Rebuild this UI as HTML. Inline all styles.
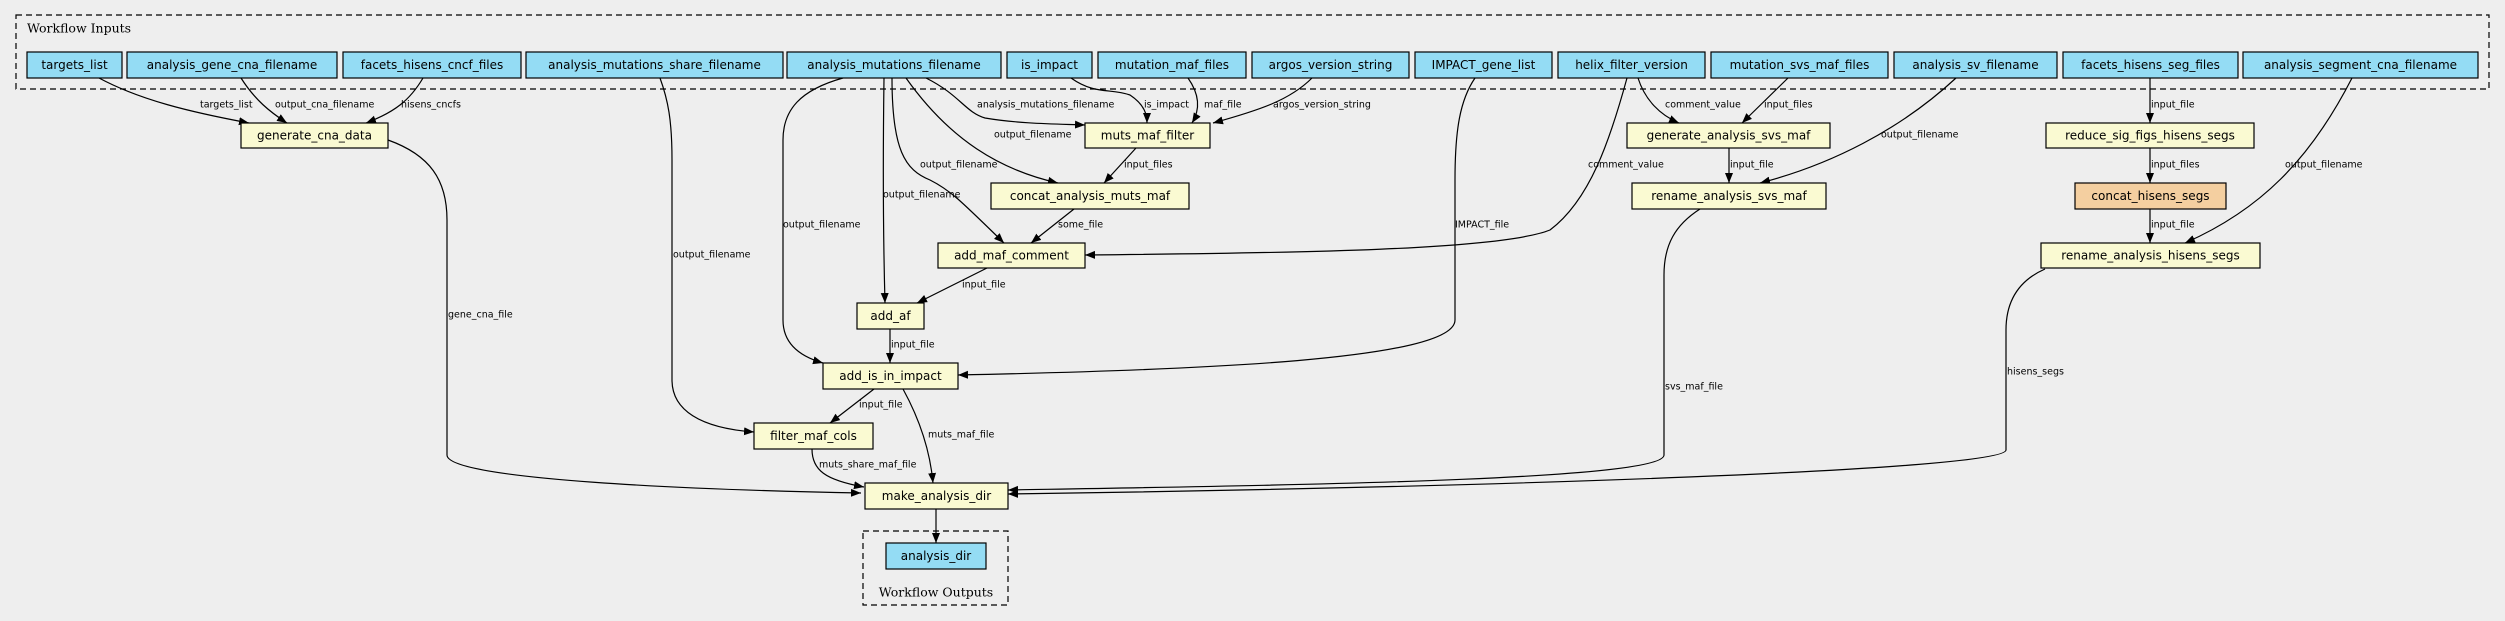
<!DOCTYPE html>
<html><head><meta charset="utf-8"><style>
body{margin:0;background:#eeeeee;}
svg{display:block}
.n{font-family:"DejaVu Sans","Liberation Sans",sans-serif;font-size:12px;fill:#000;text-anchor:middle;dominant-baseline:central}
.l{font-family:"DejaVu Sans","Liberation Sans",sans-serif;font-size:9.5px;fill:#000;dominant-baseline:central}
.e{fill:none;stroke:#000;stroke-width:1.2}
.i{fill:#94dcf4;stroke:#000;stroke-width:1.2}
.s{fill:#fafad2;stroke:#000;stroke-width:1.2}
</style></head><body>
<svg width="2505" height="621" xmlns="http://www.w3.org/2000/svg">
<defs><marker id="a" viewBox="0 0 10 10" refX="10" refY="5" markerWidth="10" markerHeight="10" markerUnits="userSpaceOnUse" orient="auto"><path d="M0,1 L10,5 L0,9 z" fill="#000"/></marker></defs>
<rect width="2505" height="621" fill="#eeeeee"/>
<rect x="16" y="15" width="2473" height="74" fill="none" stroke="#000" stroke-width="1.2" stroke-dasharray="6,4"/>
<text x="27" y="28" style="font-family:'DejaVu Serif','Liberation Serif',serif;font-size:12.5px" dominant-baseline="central">Workflow Inputs</text>
<rect x="863" y="531" width="145" height="74" fill="none" stroke="#000" stroke-width="1.2" stroke-dasharray="6,4"/>
<text x="936" y="592" style="font-family:'DejaVu Serif','Liberation Serif',serif;font-size:12.5px" text-anchor="middle" dominant-baseline="central">Workflow Outputs</text>

<!-- edges -->
<g class="e" marker-end="url(#a)">
<path d="M99,78 C140,100 190,112 249,123"/>
<path d="M241,78 C255,100 270,112 287,123"/>
<path d="M423,78 C410,100 395,112 366,123"/>
<path d="M388,140 C430,155 447,180 447,220 L447,455 C447,480 700,490 861,493"/>
<path d="M660,78 C668,100 672,120 672,160 L672,380 C672,410 700,428 754,432"/>
<path d="M843,78 C800,90 783,110 783,140 L783,320 C783,340 795,355 823,363"/>
<path d="M884,78 C883,150 883,230 885,303"/>
<path d="M892,78 C892,150 905,170 930,180 C950,190 960,200 1004,243"/>
<path d="M906,78 C950,140 1000,170 1058,183"/>
<path d="M926,78 C960,95 965,112 985,118 C1020,124 1060,124 1085,125"/>
<path d="M1071,78 C1095,95 1110,88 1130,95 C1145,105 1147,115 1147,123"/>
<path d="M1188,78 C1200,95 1200,110 1192,123"/>
<path d="M1312,78 C1290,100 1260,110 1213,123"/>
<path d="M1136,148 L1104,183"/>
<path d="M1074,209 L1031,243"/>
<path d="M987,268 L917,303"/>
<path d="M890,329 L890,363"/>
<path d="M1475,78 C1460,100 1455,130 1455,180 L1455,320 C1455,360 1200,370 958,375"/>
<path d="M874,389 L830,423"/>
<path d="M903,389 C920,420 930,450 933,483"/>
<path d="M812,449 C812,470 825,480 864,487"/>
<path d="M936,509 L936,543"/>
<path d="M1788,78 L1742,123"/>
<path d="M1638,78 C1645,100 1660,115 1679,123"/>
<path d="M1627,78 C1610,140 1590,200 1550,230 C1500,250 1300,253 1085,255"/>
<path d="M1729,148 L1729,183"/>
<path d="M1956,78 C1900,130 1830,165 1760,183"/>
<path d="M2150,78 L2150,123"/>
<path d="M2150,148 L2150,183"/>
<path d="M2150,209 L2150,243"/>
<path d="M2352,78 C2310,160 2260,210 2185,243"/>
<path d="M1700,209 C1675,225 1664,245 1664,275 L1664,455 C1664,480 1300,485 1008,490"/>
<path d="M2045,269 C2020,280 2006,300 2006,330 L2006,450 C2006,470 1500,487 1008,494"/>
</g>

<!-- edge labels -->
<g class="l">
<text class="l" x="200" y="105">targets_list</text>
<text class="l" x="275" y="105">output_cna_filename</text>
<text class="l" x="401" y="105">hisens_cncfs</text>
<text class="l" x="448" y="315">gene_cna_file</text>
<text class="l" x="673" y="255">output_filename</text>
<text class="l" x="783" y="225">output_filename</text>
<text class="l" x="883" y="195">output_filename</text>
<text class="l" x="920" y="165">output_filename</text>
<text class="l" x="994" y="135">output_filename</text>
<text class="l" x="977" y="105">analysis_mutations_filename</text>
<text class="l" x="1144" y="105">is_impact</text>
<text class="l" x="1204" y="105">maf_file</text>
<text class="l" x="1273" y="105">argos_version_string</text>
<text class="l" x="1124" y="165">input_files</text>
<text class="l" x="1058" y="225">some_file</text>
<text class="l" x="962" y="285">input_file</text>
<text class="l" x="891" y="345">input_file</text>
<text class="l" x="1455" y="225">IMPACT_file</text>
<text class="l" x="859" y="405">input_file</text>
<text class="l" x="928" y="435">muts_maf_file</text>
<text class="l" x="819" y="465">muts_share_maf_file</text>
<text class="l" x="1665" y="105">comment_value</text>
<text class="l" x="1764" y="105">input_files</text>
<text class="l" x="1588" y="165">comment_value</text>
<text class="l" x="1730" y="165">input_file</text>
<text class="l" x="1881" y="135">output_filename</text>
<text class="l" x="2151" y="105">input_file</text>
<text class="l" x="2151" y="165">input_files</text>
<text class="l" x="2151" y="225">input_file</text>
<text class="l" x="2285" y="165">output_filename</text>
<text class="l" x="1665" y="387">svs_maf_file</text>
<text class="l" x="2007" y="372">hisens_segs</text>
</g>

<!-- input nodes -->
<g>
<rect class="i" x="27" y="52" width="95" height="26"/><text class="n" x="74.5" y="65">targets_list</text>
<rect class="i" x="127" y="52" width="210" height="26"/><text class="n" x="232" y="65">analysis_gene_cna_filename</text>
<rect class="i" x="343" y="52" width="178" height="26"/><text class="n" x="432" y="65">facets_hisens_cncf_files</text>
<rect class="i" x="526" y="52" width="257" height="26"/><text class="n" x="654.5" y="65">analysis_mutations_share_filename</text>
<rect class="i" x="787" y="52" width="214" height="26"/><text class="n" x="894" y="65">analysis_mutations_filename</text>
<rect class="i" x="1007" y="52" width="85" height="26"/><text class="n" x="1049.5" y="65">is_impact</text>
<rect class="i" x="1098" y="52" width="148" height="26"/><text class="n" x="1172" y="65">mutation_maf_files</text>
<rect class="i" x="1252" y="52" width="157" height="26"/><text class="n" x="1330.5" y="65">argos_version_string</text>
<rect class="i" x="1415" y="52" width="137" height="26"/><text class="n" x="1483.5" y="65">IMPACT_gene_list</text>
<rect class="i" x="1558" y="52" width="147" height="26"/><text class="n" x="1631.5" y="65">helix_filter_version</text>
<rect class="i" x="1711" y="52" width="177" height="26"/><text class="n" x="1799.5" y="65">mutation_svs_maf_files</text>
<rect class="i" x="1894" y="52" width="163" height="26"/><text class="n" x="1975.5" y="65">analysis_sv_filename</text>
<rect class="i" x="2063" y="52" width="175" height="26"/><text class="n" x="2150.5" y="65">facets_hisens_seg_files</text>
<rect class="i" x="2243" y="52" width="235" height="26"/><text class="n" x="2360.5" y="65">analysis_segment_cna_filename</text>
<rect class="i" x="886" y="543" width="100" height="26"/><text class="n" x="936" y="556">analysis_dir</text>
</g>

<!-- step nodes -->
<g>
<rect class="s" x="241" y="123" width="147" height="25"/><text class="n" x="314.5" y="135.5">generate_cna_data</text>
<rect class="s" x="1085" y="123" width="125" height="25"/><text class="n" x="1147.5" y="135.5">muts_maf_filter</text>
<rect class="s" x="991" y="183" width="198" height="26"/><text class="n" x="1090" y="196">concat_analysis_muts_maf</text>
<rect class="s" x="938" y="243" width="147" height="25"/><text class="n" x="1011.5" y="255.5">add_maf_comment</text>
<rect class="s" x="857" y="303" width="67" height="26"/><text class="n" x="890.5" y="316">add_af</text>
<rect class="s" x="823" y="363" width="135" height="26"/><text class="n" x="890.5" y="376">add_is_in_impact</text>
<rect class="s" x="754" y="423" width="119" height="26"/><text class="n" x="813.5" y="436">filter_maf_cols</text>
<rect class="s" x="865" y="483" width="143" height="26"/><text class="n" x="936.5" y="496">make_analysis_dir</text>
<rect class="s" x="1627" y="123" width="203" height="25"/><text class="n" x="1728.5" y="135.5">generate_analysis_svs_maf</text>
<rect class="s" x="1632" y="183" width="194" height="26"/><text class="n" x="1729" y="196">rename_analysis_svs_maf</text>
<rect class="s" x="2046" y="123" width="208" height="25"/><text class="n" x="2150" y="135.5">reduce_sig_figs_hisens_segs</text>
<rect x="2075" y="183" width="151" height="26" fill="#f4cfa0" stroke="#000" stroke-width="1.2"/><text class="n" x="2150.5" y="196">concat_hisens_segs</text>
<rect class="s" x="2041" y="243" width="219" height="25"/><text class="n" x="2150.5" y="255.5">rename_analysis_hisens_segs</text>
</g>
</svg>
</body></html>
